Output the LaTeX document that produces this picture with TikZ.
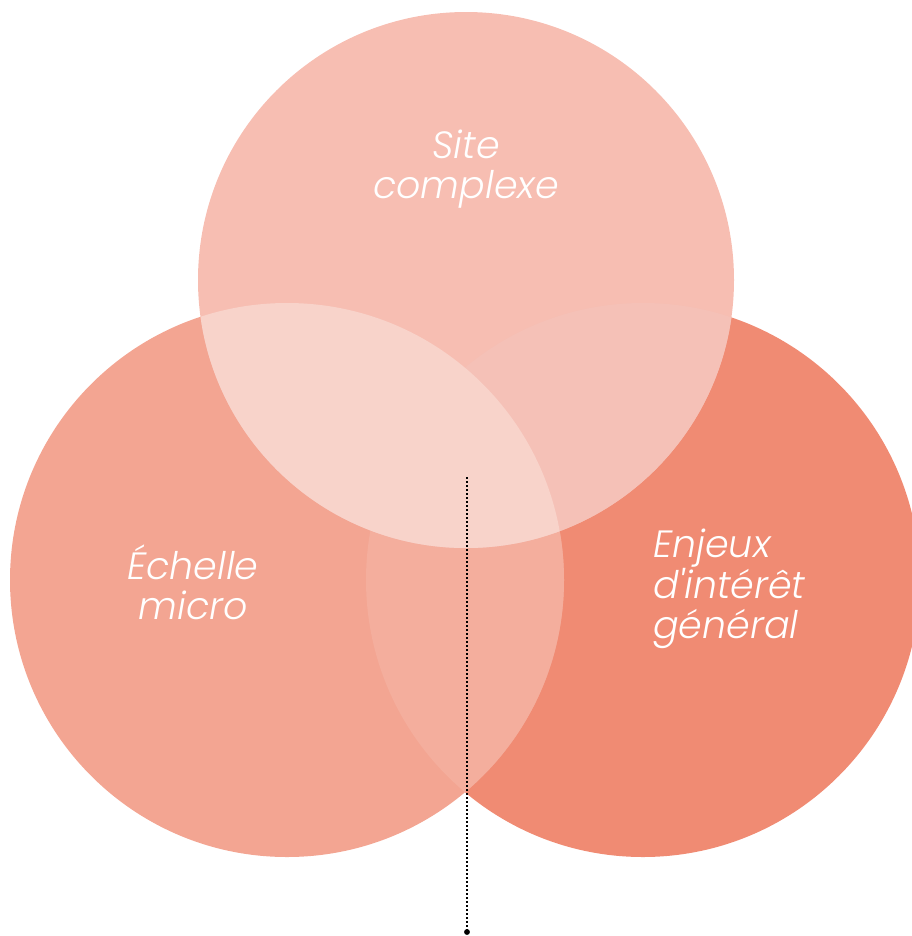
\documentclass[tikz,border=0pt]{standalone}
\usepackage{fontspec}
\newfontfamily\labelfont{Poppins}[UprightFont=* Light, ItalicFont=* Light Italic]
\usepackage{xcolor}
\usetikzlibrary{positioning}

\definecolor{colTop}{HTML}{F7BEB2}
\definecolor{colLeft}{HTML}{F3A592}
\definecolor{colRight}{HTML}{F08B73}
\definecolor{colLR}{HTML}{F4AE9D}
\definecolor{colTR}{HTML}{F5C1B7}
\definecolor{colTL}{HTML}{F8D3CA}

\begin{document}
\begin{tikzpicture}[
    x=0.75pt, y=-0.75pt,
    label/.style={text=white, font=\labelfont\fontsize{28.5}{30}\selectfont\itshape, inner sep=0pt},
    pointer/.style={line width=1.4pt, dash pattern=on 1.4pt off 1.6pt}
]
\useasboundingbox (0,0) rectangle (911,936);

% circles
\fill[colRight] (643,580) circle (277);
\fill[colLeft] (287,580) circle (277);
\begin{scope}
  \clip (643,580) circle (277);
  \fill[colLR] (287,580) circle (277);
\end{scope}
\fill[colTop] (466,280) circle (268);
\begin{scope}
  \clip (466,280) circle (268);
  \fill[colTR] (643,580) circle (277);
  \fill[colTL] (287,580) circle (277);
\end{scope}

% labels
\node[label, align=center] (site) at (466,169) {Site\\complexe};
\node[label, align=center] (echelle) at (193,582) {Échelle\\micro};
\node[label, align=left, anchor=west] (enjeux) at (653,589) {Enjeux\\d'intérêt\\général};

% pointer
\coordinate (top) at (467,477);
\coordinate (bottom) at (467,932);
\draw[pointer] (top) -- (bottom);
\fill (bottom) circle (2.2pt);

\end{tikzpicture}
\end{document}
